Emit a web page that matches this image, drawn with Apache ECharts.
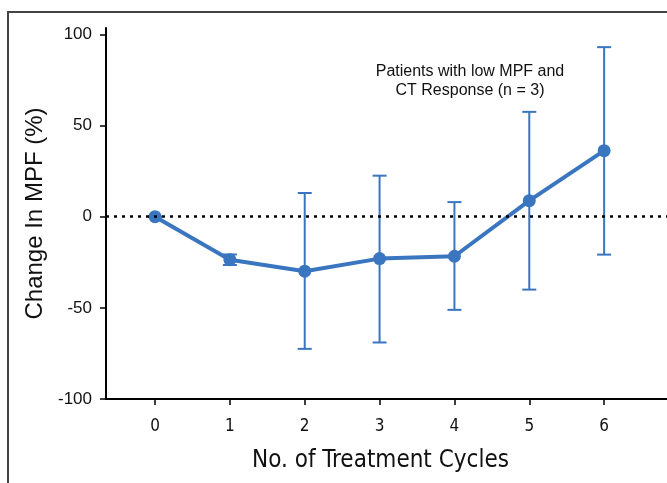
<!DOCTYPE html>
<html>
<head>
<meta charset="utf-8">
<script src="https://cdn.jsdelivr.net/npm/echarts@6/dist/echarts.min.js"></script>
<style>
  html, body { margin: 0; padding: 0; background: #fff; }
  #chart1 { width: 667px; height: 483px; }
</style>
</head>
<body>
<div id="chart1"></div>
<script>
// 数据
var cycles = [0, 1, 2, 3, 4, 5, 6];
var meanChange = [0, -23.6, -29.9, -23.0, -21.7, 8.8, 36.2];
var errLow = [0, -26.5, -72.5, -69.0, -51.1, -40.0, -20.8];
var errHigh = [0, -20.7, 13.0, 22.5, 8.0, 57.5, 93.0];
var yTicks = [-100, -50, 0, 50, 100];

var blue = '#3a76bf';
var narrow = '"Liberation Sans Narrow", "DejaVu Sans Condensed", "Liberation Sans"';

var mychart1 = echarts.init(document.getElementById('chart1'));

var option = {
    animation: false,
    grid: { left: 106, right: 0, top: 28, bottom: 84 },
    xAxis: {
        type: 'value',
        min: -0.655,
        max: 6.84,
        name: 'No. of Treatment Cycles',
        nameLocation: 'middle',
        nameGap: 50,
        nameTextStyle: { fontFamily: narrow, fontSize: 24, color: '#111', padding: [0, 12, 0, 0] },
        splitLine: { show: false },
        axisLine: { onZero: false, lineStyle: { color: '#000', width: 2 } },
        axisTick: { customValues: cycles, length: 6, lineStyle: { color: '#000', width: 1.5 } },
        axisLabel: { customValues: cycles, margin: 19, fontFamily: narrow, fontSize: 17, color: '#111' }
    },
    yAxis: {
        type: 'value',
        min: -100,
        max: 103.5,
        name: 'Change In MPF (%)',
        nameLocation: 'middle',
        nameGap: 58,
        nameTextStyle: { fontFamily: 'Liberation Sans', fontSize: 24, color: '#111' },
        splitLine: { show: false },
        axisLine: { show: true, onZero: false, lineStyle: { color: '#000', width: 2 } },
        axisTick: { show: true, customValues: yTicks, length: 6, lineStyle: { color: '#000', width: 1.5 } },
        axisLabel: { customValues: yTicks, margin: 14, fontFamily: 'Liberation Sans', fontSize: 17, color: '#111' }
    },
    graphic: [
        {
            type: 'polyline',
            shape: { points: [[8, 483], [8, 12], [667, 12]] },
            style: { stroke: '#444', lineWidth: 2, fill: null }
        },
        {
            type: 'text',
            x: 470,
            y: 62,
            style: {
                text: 'Patients with low MPF and\nCT Response (n = 3)',
                fontFamily: 'Liberation Sans',
                fontSize: 16,
                lineHeight: 19,
                fill: '#111',
                align: 'center'
            }
        }
    ],
    series: [
        {
            name: 'err',
            type: 'custom',
            z: 3,
            renderItem: function (params, api) {
                var x = api.value(0);
                var lo = api.coord([x, api.value(1)]);
                var hi = api.coord([x, api.value(2)]);
                var w = 7;
                var st = { stroke: blue, lineWidth: 2 };
                return {
                    type: 'group',
                    children: [
                        { type: 'line', shape: { x1: lo[0], y1: lo[1], x2: hi[0], y2: hi[1] }, style: st },
                        { type: 'line', shape: { x1: lo[0] - w, y1: lo[1], x2: lo[0] + w, y2: lo[1] }, style: st },
                        { type: 'line', shape: { x1: hi[0] - w, y1: hi[1], x2: hi[0] + w, y2: hi[1] }, style: st }
                    ]
                };
            },
            data: cycles.map(function (c, i) { return [c, errLow[i], errHigh[i]]; })
        },
        {
            name: 'mean',
            type: 'line',
            z: 4,
            symbol: 'circle',
            symbolSize: 13,
            itemStyle: { color: blue },
            lineStyle: { color: blue, width: 4 },
            data: cycles.map(function (c, i) { return [c, meanChange[i]]; }),
            markLine: {
                silent: true,
                symbol: 'none',
                label: { show: false },
                lineStyle: { color: '#000', type: [3, 5], width: 2.5, cap: 'butt' },
                data: [{ yAxis: 0 }]
            }
        }
    ]
};

mychart1.setOption(option);
</script>
</body>
</html>
